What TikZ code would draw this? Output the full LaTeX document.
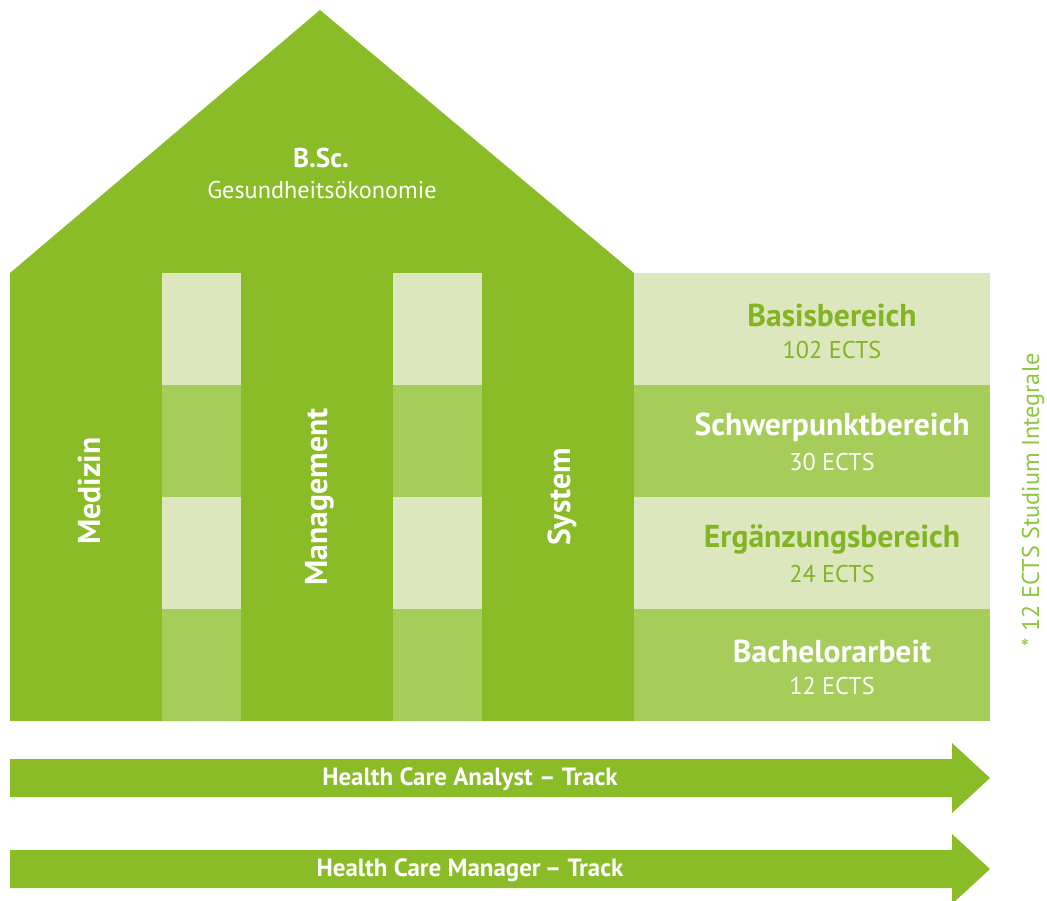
\documentclass[tikz,border=0pt]{standalone}
\usepackage{fontspec}
\setmainfont{PT Sans}
\usetikzlibrary{positioning,calc}
\definecolor{hgreen}{RGB}{138,188,40}
\definecolor{hlight}{RGB}{220,231,190}
\definecolor{hmid}{RGB}{166,204,90}
\definecolor{htext}{RGB}{130,180,36}
\definecolor{hnote}{RGB}{141,198,63}
\tikzstyle{head}=[font=\fontsize{18}{20}\selectfont\bfseries, text=white, inner sep=0pt]
\tikzstyle{sub}=[font=\fontsize{13.8}{15}\selectfont, text=white, inner sep=0pt]
\tikzstyle{pillar}=[head, rotate=90]
\tikzstyle{track}=[font=\fontsize{14.2}{15}\selectfont\bfseries, text=white, inner sep=0pt]

\begin{document}
\begin{tikzpicture}[x=0.02cm, y=-0.02cm]
        \useasboundingbox (0,0) rectangle (1047,900);
        % house
        \fill[hgreen] (10,273) -- (320,10) -- (634,273) -- (634,721) -- (10,721) -- cycle;
        \foreach \a/\b in {162/241, 393/482} {
          \fill[hlight] (\a,273) rectangle (\b,385);
          \fill[hmid] (\a,385) rectangle (\b,497);
          \fill[hlight] (\a,497) rectangle (\b,609);
          \fill[hmid] (\a,609) rectangle (\b,721);
        }
        \node[sub, font=\fontsize{15.5}{17}\selectfont\bfseries] (bsc) at (321,158) {B.Sc.};
        \node[sub] (ges) at (322,190) {Gesundheitsökonomie};
        \node[pillar] (med) at (89,491) {Medizin};
        \node[pillar] (man) at (320,497) {Management};
        \node[pillar] (sys) at (562,497) {System};
        % rows
        \foreach \y/\c/\tc/\t/\e/\n in {273/hlight/htext/Basisbereich/102/1,
            385/hmid/white/Schwerpunktbereich/30/2,
            497/hlight/htext/Ergänzungsbereich/24/3,
            609/hmid/white/Bachelorarbeit/12/4} {
          \fill[\c] (634,\y) rectangle (990,\y+112);
          \node[head, text=\tc] (t\n) at (832,\y+42) {\t};
          \node[sub, text=\tc] (e\n) at (832,\y+77) {\e{} ECTS};
        }
        \node[sub, text=hnote, rotate=90] (note) at (1033,500) {* 12 ECTS Studium Integrale};
        % tracks
        \foreach \y/\t/\n in {759/Health Care Analyst -- Track/a, 850/Health Care Manager\,-- Track/b} {
          \fill[hgreen] (10,\y) -- (952,\y) -- (952,\y-16) -- (990,\y+19) -- (952,\y+54) -- (952,\y+38) -- (10,\y+38) -- cycle;
          \node[track] (track\n) at (470,\y+20) {\t};
        }
\end{tikzpicture}
\end{document}
